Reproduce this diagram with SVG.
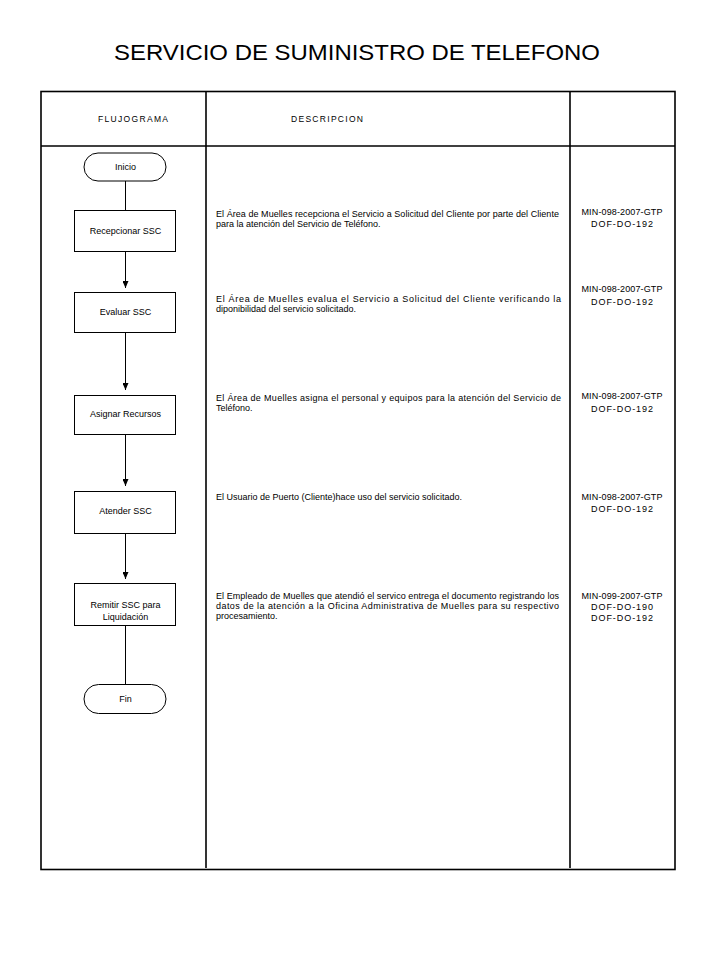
<svg xmlns="http://www.w3.org/2000/svg" width="720" height="960" viewBox="0 0 720 960">
<defs>
<style>
text{font-family:"Liberation Sans",Arial,sans-serif;fill:#000}
.title{font-size:22px}
.hdr{font-size:8.5px}
.lbl{font-size:9px;text-anchor:middle}
.desc{font-size:9px}
.code{font-size:9px;text-anchor:middle}
.grid{fill:none;stroke:#000;stroke-width:1.6}
.box{fill:#fff;stroke:#000;stroke-width:1}
.conn{fill:none;stroke:#000;stroke-width:1}
</style>
<marker id="arr" viewBox="0 0 7 6" refX="7" refY="3" markerWidth="7" markerHeight="6" markerUnits="userSpaceOnUse" orient="auto">
<path d="M0,0 L7,3 L0,6 Z" fill="#000"/>
</marker>
</defs>
<rect width="720" height="960" fill="#fff"/>
<text class="title" x="114" y="60" textLength="486" lengthAdjust="spacingAndGlyphs">SERVICIO DE SUMINISTRO DE TELEFONO</text>

<g id="table">
<rect class="grid" x="41" y="91.5" width="634" height="778"/>
<line class="grid" x1="41" y1="146" x2="675" y2="146"/>
<line class="grid" x1="206" y1="91.5" x2="206" y2="868"/>
<line class="grid" x1="570" y1="91.5" x2="570" y2="868"/>
<text class="hdr" x="98" y="121.5" textLength="70">FLUJOGRAMA</text>
<text class="hdr" x="291" y="121.5" textLength="72">DESCRIPCION</text>
</g>

<g id="connectors">
<line class="conn" x1="125.5" y1="181" x2="125.5" y2="210"/>
<line class="conn" x1="125.5" y1="251" x2="125.5" y2="288" marker-end="url(#arr)"/>
<line class="conn" x1="125.5" y1="332" x2="125.5" y2="390" marker-end="url(#arr)"/>
<line class="conn" x1="125.5" y1="434" x2="125.5" y2="486" marker-end="url(#arr)"/>
<line class="conn" x1="125.5" y1="533" x2="125.5" y2="579" marker-end="url(#arr)"/>
<line class="conn" x1="125.5" y1="625" x2="125.5" y2="684"/>
</g>

<g id="inicio">
<rect class="box" x="84" y="153" width="82" height="28" rx="14" ry="14"/>
<text class="lbl" x="125.5" y="170">Inicio</text>
</g>
<g id="recepcionar">
<rect class="box" x="74.5" y="210.5" width="101" height="41"/>
<text class="lbl" x="125.5" y="234">Recepcionar SSC</text>
</g>
<g id="evaluar">
<rect class="box" x="74.5" y="292.5" width="101" height="40"/>
<text class="lbl" x="125.5" y="315">Evaluar SSC</text>
</g>
<g id="asignar">
<rect class="box" x="74.5" y="395.5" width="101" height="39"/>
<text class="lbl" x="125.5" y="417">Asignar Recursos</text>
</g>
<g id="atender">
<rect class="box" x="74.5" y="491.5" width="101" height="42"/>
<text class="lbl" x="125.5" y="514">Atender SSC</text>
</g>
<g id="remitir">
<rect class="box" x="74.5" y="583.5" width="101" height="42"/>
<text class="lbl" x="125.5" y="608">Remitir SSC para</text>
<text class="lbl" x="125.5" y="620">Liquidación</text>
</g>
<g id="fin">
<rect class="box" x="84" y="684.5" width="82" height="29" rx="14.5" ry="14.5"/>
<text class="lbl" x="125.5" y="702">Fin</text>
</g>

<g id="desc1">
<text class="desc" x="216" y="217" textLength="343" lengthAdjust="spacing">El Área de Muelles recepciona el Servicio a Solicitud del Cliente por parte del Cliente</text>
<text class="desc" x="216" y="227">para la atención del Servicio de Teléfono.</text>
<text class="code" x="622" y="215" textLength="81">MIN-098-2007-GTP</text>
<text class="code" x="622" y="227" textLength="62">DOF-DO-192</text>
</g>
<g id="desc2">
<text class="desc" x="216" y="302" textLength="345" lengthAdjust="spacing">El Área de Muelles evalua el Servicio a Solicitud del Cliente verificando la</text>
<text class="desc" x="216" y="312">diponibilidad del servicio solicitado.</text>
<text class="code" x="622" y="292" textLength="81">MIN-098-2007-GTP</text>
<text class="code" x="622" y="305" textLength="62">DOF-DO-192</text>
</g>
<g id="desc3">
<text class="desc" x="216" y="401" textLength="345" lengthAdjust="spacing">El Área de Muelles asigna el personal  y equipos para la atención del Servicio de</text>
<text class="desc" x="216" y="411">Teléfono.</text>
<text class="code" x="622" y="399" textLength="81">MIN-098-2007-GTP</text>
<text class="code" x="622" y="412" textLength="62">DOF-DO-192</text>
</g>
<g id="desc4">
<text class="desc" x="216" y="500">El Usuario de Puerto (Cliente)hace uso del servicio solicitado.</text>
<text class="code" x="622" y="500" textLength="81">MIN-098-2007-GTP</text>
<text class="code" x="622" y="512" textLength="62">DOF-DO-192</text>
</g>
<g id="desc5">
<text class="desc" x="216" y="599" textLength="343" lengthAdjust="spacing">El Empleado de Muelles que atendió el servico entrega el documento registrando los</text>
<text class="desc" x="216" y="609" textLength="343" lengthAdjust="spacing">datos de la atención a la Oficina Administrativa de Muelles para su respectivo</text>
<text class="desc" x="216" y="619">procesamiento.</text>
<text class="code" x="622" y="599" textLength="81">MIN-099-2007-GTP</text>
<text class="code" x="622" y="610" textLength="62">DOF-DO-190</text>
<text class="code" x="622" y="621" textLength="62">DOF-DO-192</text>
</g>
</svg>
